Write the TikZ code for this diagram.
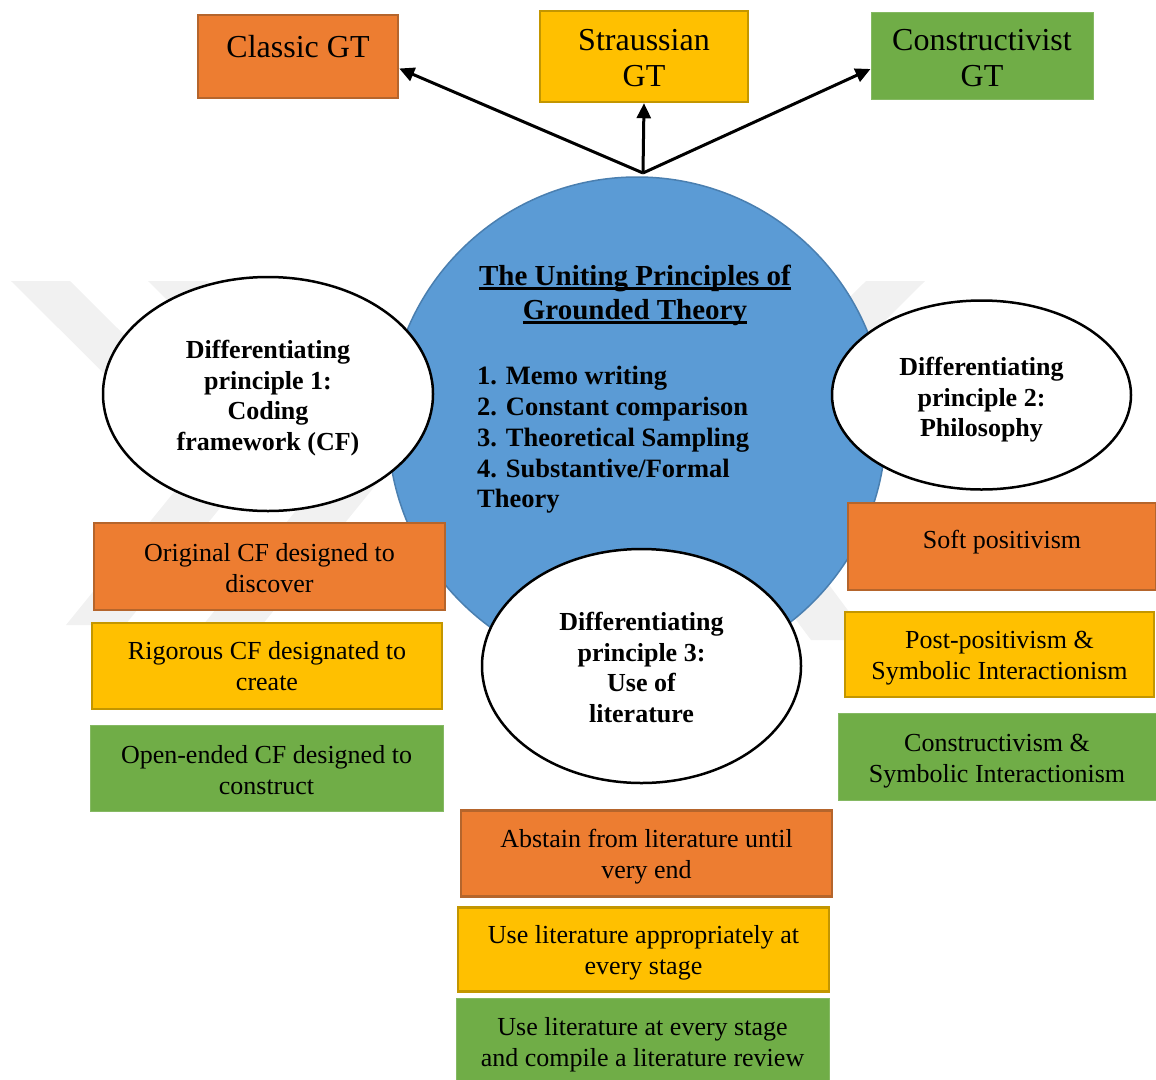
\documentclass[tikz,border=0pt]{standalone}
\usepackage{fontspec}
\setmainfont{Liberation Serif}
\usetikzlibrary{arrows.meta,shapes.geometric}

\definecolor{gtorange}{HTML}{ED7D31}
\definecolor{gtorangeedge}{HTML}{B5652C}
\definecolor{gtyellow}{HTML}{FFC000}
\definecolor{gtyellowedge}{HTML}{C39600}
\definecolor{gtgreen}{HTML}{70AD47}
\definecolor{gtblue}{HTML}{5B9BD5}
\definecolor{gtblueedge}{HTML}{4A7FB0}
\definecolor{markgray}{HTML}{F1F1F1}

% thick underline for the heading
\newcommand{\gtul}[1]{\setbox0=\hbox{#1}\rlap{\rule[-4.5pt]{\wd0}{2.2pt}}\box0}

\tikzset{
  boxtext/.style={font=\fontsize{26}{31}\selectfont, align=center, inner sep=0pt},
  gtbox/.style={rectangle, inner sep=0pt},
  orangebox/.style={gtbox, fill=gtorange, draw=gtorangeedge, line width=2.5pt},
  yellowbox/.style={gtbox, fill=gtyellow, draw=gtyellowedge, line width=2.5pt},
  greenbox/.style={gtbox, fill=gtgreen, draw=gtgreen!85!white, line width=1pt},
  toptext/.style={font=\fontsize{32}{36}\selectfont, align=center, inner sep=0pt},
  principle/.style={ellipse, fill=white, draw=black, line width=2.5pt, inner sep=0pt},
  principletext/.style={font=\bfseries\fontsize{26}{30.5}\selectfont, align=center, inner sep=0pt},
  gtarrow/.style={line width=3pt, -{Triangle[length=15pt,width=14pt]}},
}

\begin{document}
\begin{tikzpicture}[x=1pt, y=-1pt]
  \useasboundingbox (0,0) rectangle (1156,1079);

  % faint background chevrons
  \fill[markgray] (11,281) -- (70,281) -- (255,465) -- (125,625) -- (66,625) -- (196,465) -- cycle;
  \fill[markgray] (148,281) -- (207,281) -- (392,465) -- (262,625) -- (203,625) -- (333,465) -- cycle;
  \fill[markgray] (925,281) -- (866,281) -- (681,465) -- (811,640) -- (870,640) -- (740,465) -- cycle;

  % central circle with the uniting principles
  \node[circle, fill=gtblue, draw=gtblueedge, line width=1.5pt, minimum size=498pt, inner sep=0pt]
    (core) at (637,426) {};
  \node[font=\bfseries\fontsize{29}{34}\selectfont, align=center] (title) at (635,295)
    {\gtul{The Uniting Principles of}\\\gtul{Grounded Theory}};
  \node[font=\bfseries\fontsize{26.5}{30.75}\selectfont, align=left, anchor=west, inner sep=0pt]
    (list) at (477,440)
    {1. Memo writing\\2. Constant comparison\\3. Theoretical Sampling\\4. Substantive/Formal\\Theory};

  % differentiating principles
  \node[principle, minimum width=330pt, minimum height=234pt,
        label={[principletext, yshift=-4pt]center:{Differentiating\\principle 1:\\Coding\\framework (CF)}}]
    (p1) at (268,394) {};
  \node[principle, minimum width=299pt, minimum height=189pt,
        label={[principletext, yshift=-5pt]center:{Differentiating\\principle 2:\\Philosophy}}]
    (p2) at (981.5,395) {};
  \node[principle, minimum width=319pt, minimum height=234pt,
        label={[principletext, yshift=-1.5pt]center:{Differentiating\\principle 3:\\Use of\\literature}}]
    (p3) at (641.5,666) {};

  % the three versions of grounded theory
  \node[orangebox, minimum width=200pt, minimum height=83pt,
        label={[toptext, yshift=10pt]center:Classic GT}] (classic) at (298,56.5) {};
  \node[yellowbox, minimum width=208pt, minimum height=91pt,
        label={[toptext, yshift=-2pt]center:{Straussian\\GT}}] (strauss) at (644,56.5) {};
  \node[greenbox, minimum width=222pt, minimum height=87pt,
        label={[toptext, yshift=-2pt]center:{Constructivist\\GT}}] (constr) at (982,56) {};

  % coding framework
  \node[orangebox, minimum width=351pt, minimum height=87pt,
        label={[boxtext, yshift=-2pt]center:{Original CF designed to\\discover}}] (cf1) at (269.5,566.5) {};
  \node[yellowbox, minimum width=350pt, minimum height=86pt,
        label={[boxtext]center:{Rigorous CF designated to\\create}}] (cf2) at (267,666) {};
  \node[greenbox, minimum width=353pt, minimum height=86pt,
        label={[boxtext, yshift=-1.5pt]center:{Open-ended CF designed to\\construct}}] (cf3) at (266.5,768.5) {};

  % philosophy
  \node[orangebox, minimum width=308pt, minimum height=87pt,
        label={[boxtext, yshift=4pt]center:Soft positivism}] (ph1) at (1002,546.5) {};
  \node[yellowbox, minimum width=309pt, minimum height=85pt,
        label={[boxtext, yshift=-4pt]center:{Post-positivism \&\\Symbolic Interactionism}}] (ph2) at (999.5,654.5) {};
  \node[greenbox, minimum width=318pt, minimum height=87pt,
        label={[boxtext, yshift=-4pt]center:{Constructivism \&\\Symbolic Interactionism}}] (ph3) at (997,757) {};

  % use of literature
  \node[orangebox, minimum width=371pt, minimum height=86pt,
        label={[boxtext, yshift=-3pt]center:{Abstain from literature until\\very end}}] (lit1) at (646.5,853.5) {};
  \node[yellowbox, minimum width=371pt, minimum height=84pt,
        label={[boxtext, yshift=-3pt]center:{Use literature appropriately at\\every stage}}] (lit2) at (643.5,949.5) {};
  \node[greenbox, minimum width=373pt, minimum height=82pt,
        label={[boxtext, yshift=-5pt]center:{Use literature at every stage\\and compile a literature review}}] (lit3) at (642.5,1039.5) {};

  % arrows from the top of the circle
  \coordinate (hub) at (643,173);
  \draw[gtarrow] (hub) -- ([yshift=-12pt]classic.east);
  \draw[gtarrow] (hub) -- (strauss.south);
  \draw[gtarrow] (hub) -- ([yshift=-13pt]constr.west);
\end{tikzpicture}
\end{document}
